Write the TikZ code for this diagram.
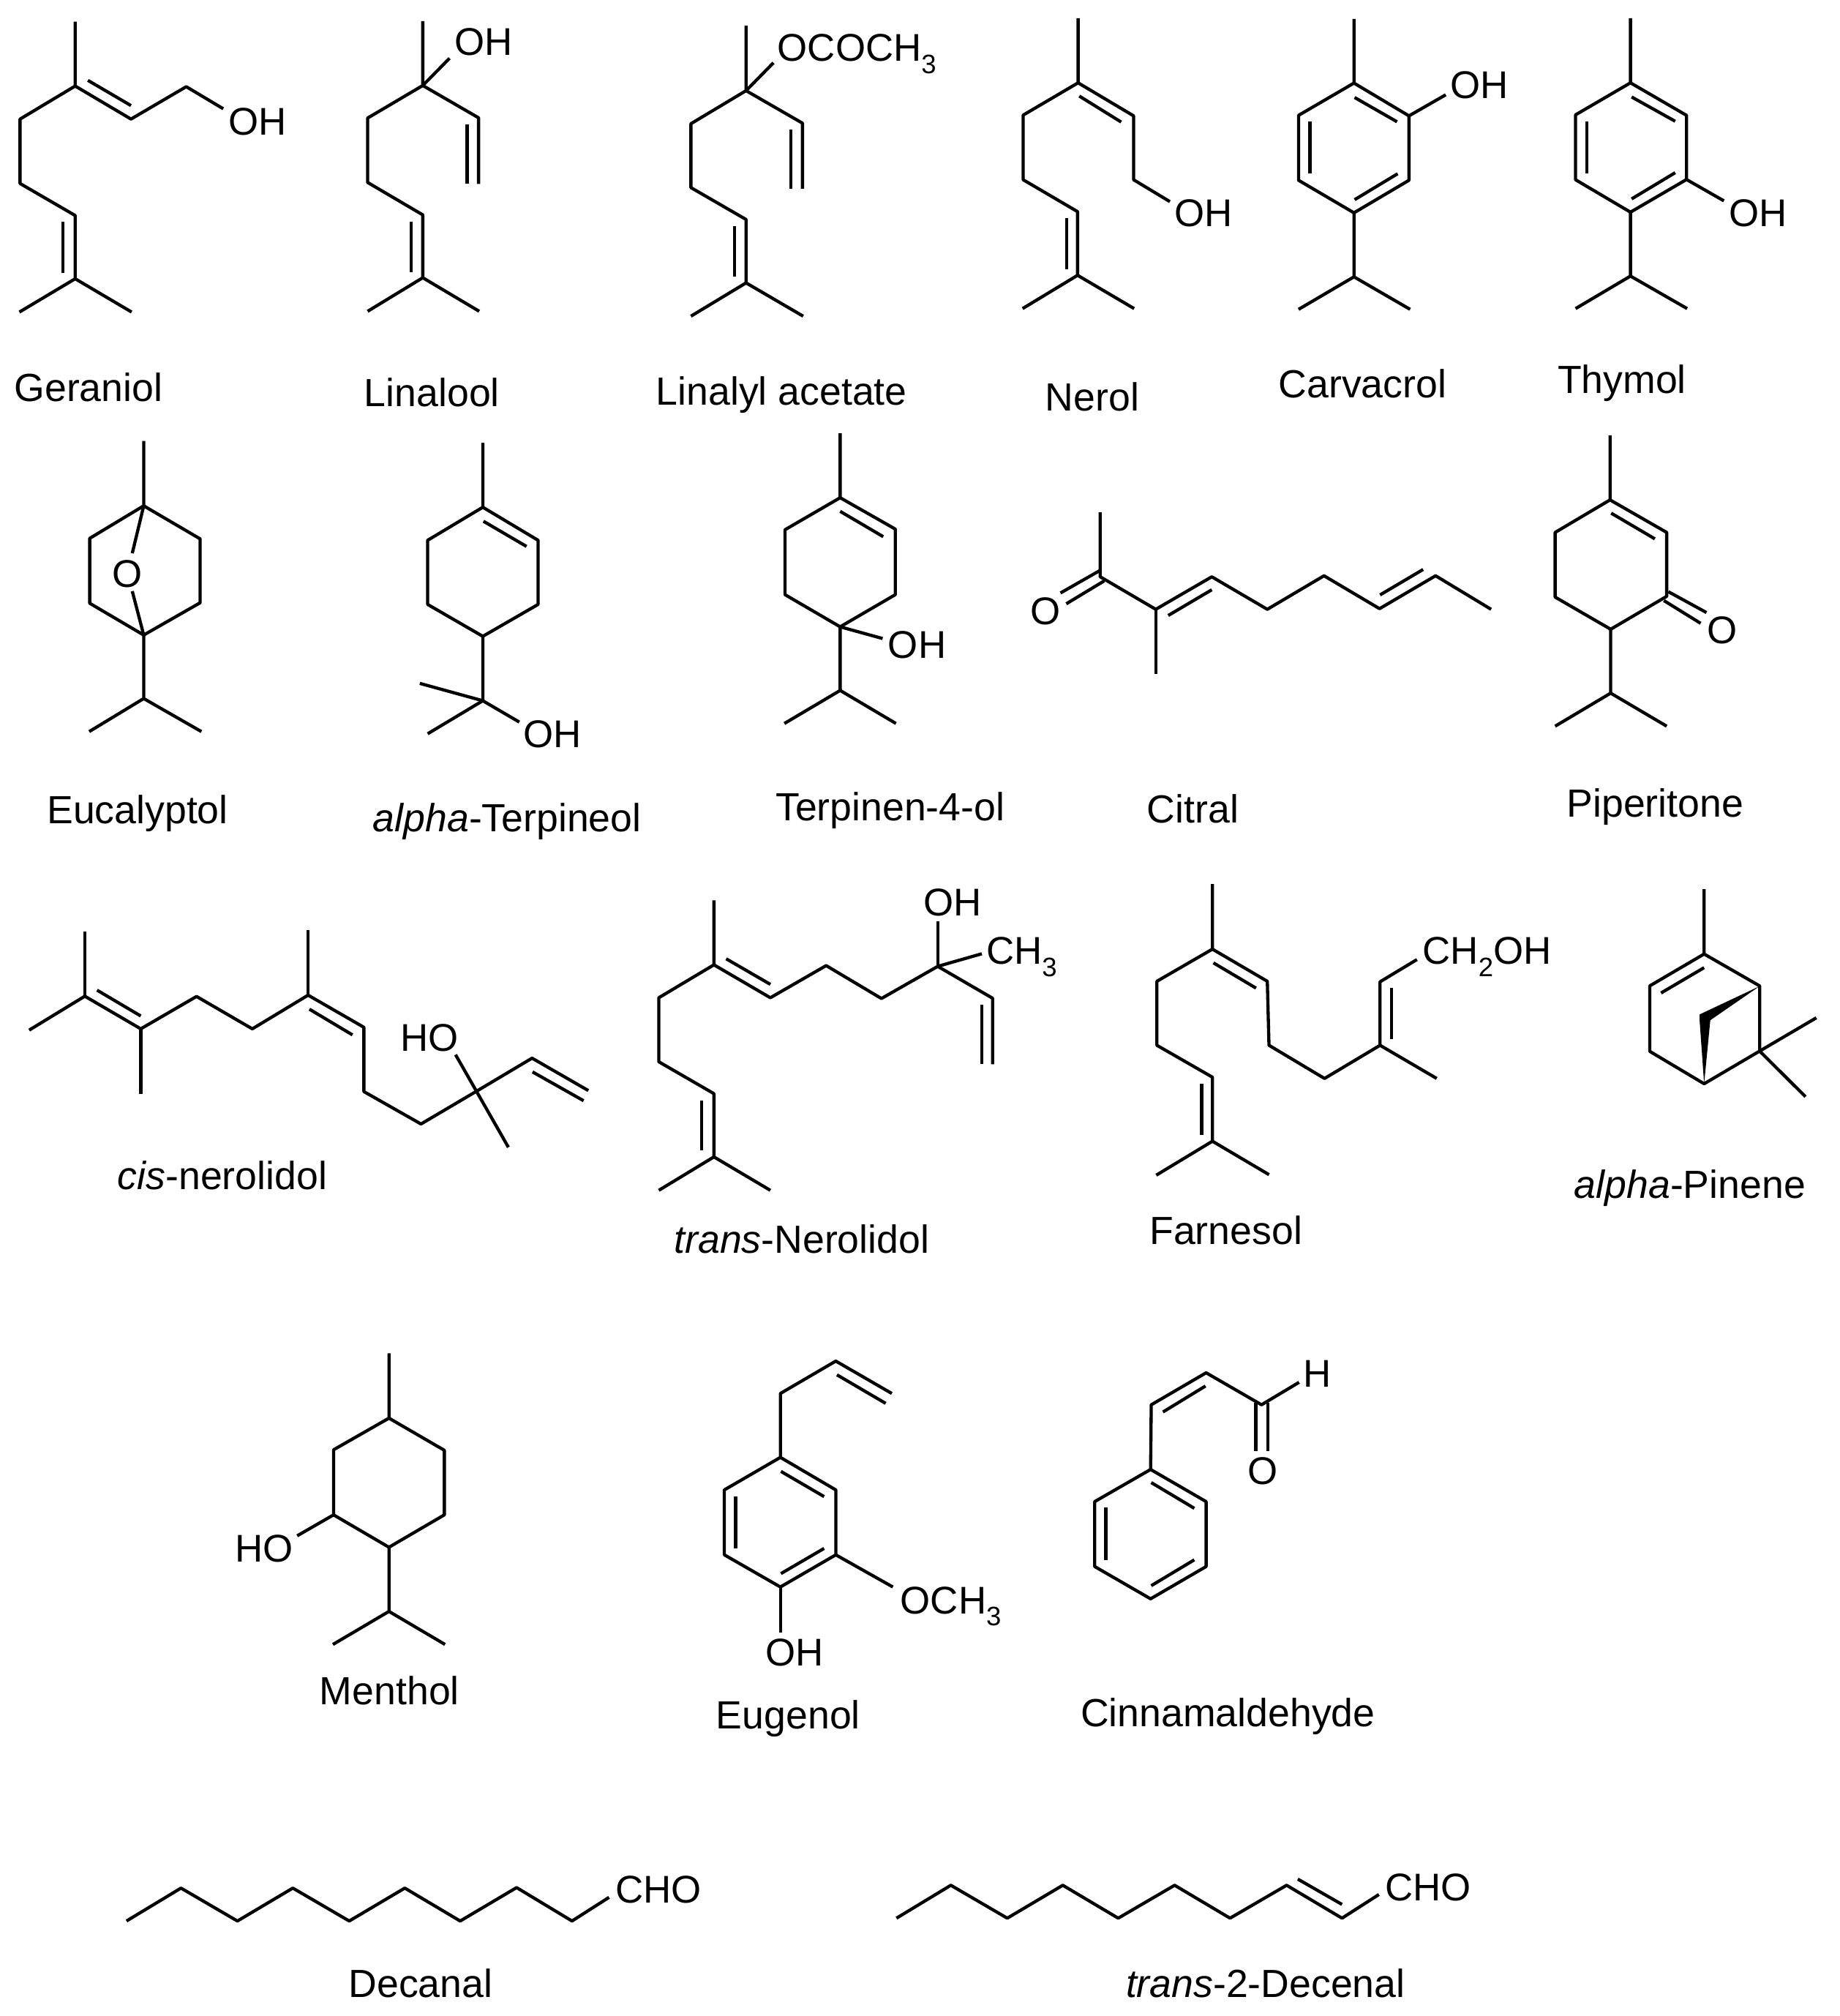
\documentclass[tikz,border=0pt]{standalone}
\usepackage{fontspec}
\setmainfont{Liberation Sans}
\newcommand{\atomsub}[1]{\raisebox{-0.32em}{\fontsize{5.9}{6}\selectfont #1}}

\begin{document}
\begin{tikzpicture}[x=0.01cm, y=-0.01cm,
  bond/.style={line width=0.7pt, line join=round},
  atom/.style={anchor=base west, inner sep=0pt, font=\fontsize{8.55}{10}\selectfont},
  title/.style={anchor=base, inner sep=0pt, yshift=-0.05mm, font=\fontsize{8.68}{10}\selectfont}]

  \useasboundingbox (0,0) rectangle (1431,1568);

  \draw [bond] (58.5,16.8) -- (58.5,66.9) -- (15.6,92.6) -- (15.6,142.7) -- (58.5,167.6) -- (58.5,216.8) -- (15.1,242.7);
  \draw [bond] (58.5,216.8) -- (102.4,242.7);
  \draw [bond] (58.5,66.9) -- (101.9,92.6) -- (144.9,67.4) -- (173.7,84.6);
  \draw [bond] (68.4,62.5) -- (101.9,82.1);
  \draw [bond] (49.1,172.6) -- (49.1,212.2);
  \node [atom] (geraniolOH) at (177,104.8) {OH};
  \node [title] (geraniol) at (68.8,311.5) {Geraniol};

  \draw [bond] (328.9,16.4) -- (328.9,66.5) -- (286,91.8) -- (286,141.9) -- (328.9,167.1) -- (328.9,216) -- (286,242.1);
  \draw [bond] (328.9,216) -- (372.8,242.1);
  \draw [bond] (328.9,66.5) -- (349.7,45.3);
  \draw [bond] (328.9,66.5) -- (372.3,91.6) -- (372.3,143.1);
  \draw [bond] (363.4,96.8) -- (363.4,143.1);
  \draw [bond] (320,172.2) -- (320,211.8);
  \node [atom] (linaloolOH) at (353,43.2) {OH};
  \node [title] (linalool) at (336,315.7) {Linalool};

  \draw [bond] (580.4,20) -- (580.4,70.5) -- (537.5,96.2) -- (537.5,145.9) -- (580.4,170.7) -- (580.4,220) -- (537.5,245.9);
  \draw [bond] (580.4,220) -- (624.8,245.9);
  \draw [bond] (580.4,70.5) -- (601.7,48.8);
  \draw [bond] (580.4,70.5) -- (624.3,95.8) -- (624.3,146.7);
  \draw [bond] (615.4,101) -- (615.4,146.7);
  \draw [bond] (571.5,175.8) -- (571.5,215.1);
  \node [atom] (linalylO) at (604.2,47.4) {OCOCH\atomsub{3}};
  \node [title] (linalyl) at (608,314.7) {Linalyl acetate};

  \draw [bond] (838.7,14.1) -- (838.7,64.4) -- (796,89.5) -- (796,139.8) -- (838.3,164.6) -- (838.3,214.1) -- (795.5,240);
  \draw [bond] (838.3,214.1) -- (882.3,240);
  \draw [bond] (838.7,64.4) -- (881.9,90.1) -- (881.9,139.8) -- (910.1,156.8);
  \draw [bond] (839.6,74.7) -- (872.2,94.9);
  \draw [bond] (829.9,169.5) -- (829.9,209.4);
  \node [atom] (nerolOH) at (913.2,176.4) {OH};
  \node [title] (nerol) at (849.7,318.9) {Nerol};

  \draw [bond] (1053.3,14.7) -- (1053.3,64.6) -- (1096.1,90.1) -- (1096.1,140.2) -- (1053.3,165.5) -- (1010.2,140.2) -- (1010.2,89.7) -- (1053.3,64.6);
  \draw [bond] (1053.3,165.5) -- (1053.3,215.3) -- (1010.2,240.6);
  \draw [bond] (1053.3,215.3) -- (1097,240.6);
  \draw [bond] (1096.1,90.1) -- (1124.7,73.7);
  \draw [bond] (1053.8,75.8) -- (1086.8,94.7);
  \draw [bond] (1019,94.7) -- (1019,135.1);
  \draw [bond] (1053.8,155.3) -- (1087.3,135.1);
  \node [atom] (carvacrolOH) at (1127.8,76.4) {OH};
  \node [title] (carvacrol) at (1060,309) {Carvacrol};

  \draw [bond] (1268.4,14.1) -- (1268.4,64.4) -- (1312,89.7) -- (1312,139.6) -- (1268.4,165) -- (1225.7,139.8) -- (1225.7,89.3) -- (1268.4,64.4);
  \draw [bond] (1268.4,165) -- (1268.4,214.7) -- (1225.7,240);
  \draw [bond] (1268.4,214.7) -- (1312.5,240);
  \draw [bond] (1312,139.6) -- (1341.1,156.2);
  \draw [bond] (1269.3,75.4) -- (1303.2,94.3);
  \draw [bond] (1234.5,94.7) -- (1234.5,134.7);
  \draw [bond] (1269.3,154.7) -- (1303.2,134.3);
  \node [atom] (thymolOH) at (1344.2,176.4) {OH};
  \node [title] (thymol) at (1261.8,305.6) {Thymol};

  \draw [bond] (111.8,343) -- (111.8,393.4) -- (69.8,418.7) -- (69.8,469.2) -- (111.8,493.9) -- (155.7,468.8) -- (155.7,419.1) -- (111.8,393.4);
  \draw [bond] (111.8,493.9) -- (111.8,543.3) -- (69.4,569);
  \draw [bond] (111.8,543.3) -- (156.7,569);
  \draw [bond] (111.8,393.4) -- (102.9,430.3);
  \draw [bond] (102.9,459.8) -- (111.8,493.9);
  \node [atom] (eucalyptolO) at (86.8,457) {O};
  \node [title] (eucalyptol) at (107,640.2) {Eucalyptol};

  \draw [bond] (375.6,344.4) -- (375.6,394.5) -- (418.6,420.2) -- (418.6,470.1) -- (375.6,494.9) -- (332.7,470.1) -- (332.7,420.2) -- (375.6,394.5);
  \draw [bond] (375.6,494.9) -- (375.6,545) -- (326.6,531.5);
  \draw [bond] (375.6,545) -- (332.7,570.7);
  \draw [bond] (375.6,545) -- (404,561.6);
  \draw [bond] (376.1,405.4) -- (409.6,425);
  \node [atom] (terpineolOH) at (406.7,581.2) {OH};
  \node [title] (terpineol) at (394.5,646.5) {\textit{alpha}-Terpineol};

  \draw [bond] (653.6,337) -- (653.6,387.1) -- (696.5,411.5) -- (696.5,462.5) -- (653.6,487.5) -- (610.7,462.5) -- (610.7,412) -- (653.6,387.1);
  \draw [bond] (653.6,487.5) -- (653.6,537) -- (610.2,562.7);
  \draw [bond] (653.6,537) -- (697,562.7);
  \draw [bond] (653.6,487.5) -- (686.6,496.6);
  \draw [bond] (653.6,397.7) -- (687.1,417.4);
  \node [atom] (terpinenOH) at (690.2,511.7) {OH};
  \node [title] (terpinen) at (692.5,637.6) {Terpinen-4-ol};

  \draw [bond] (855.9,398.5) -- (855.9,448.6) -- (899.1,473.9) -- (942.7,448.6) -- (985.9,473.9) -- (1030,447.8) -- (1073.2,473.4) -- (1116.8,447.8) -- (1160,473.9);
  \draw [bond] (899.1,473.9) -- (899.1,524.4);
  \draw [bond] (855.5,443.8) -- (825,461.2);
  \draw [bond] (859,451.8) -- (829.5,469.6);
  \draw [bond] (908.8,478.7) -- (942.7,458.7);
  \draw [bond] (1073.6,462.7) -- (1107.1,442.9);
  \node [atom] (citralO) at (801,486) {O};
  \node [title] (citral) at (928,639.5) {Citral};

  \draw [bond] (1252.5,338.5) -- (1252.5,388.8) -- (1296.6,414.1) -- (1296.6,463.8) -- (1253,489.4) -- (1209.8,464.4) -- (1209.8,414.1) -- (1252.5,388.8);
  \draw [bond] (1253,489.4) -- (1253,539.1) -- (1209.8,564.8);
  \draw [bond] (1253,539.1) -- (1296.6,564.8);
  \draw [bond] (1297.9,460.2) -- (1327.5,476.4);
  \draw [bond] (1294.4,467.1) -- (1323,484.8);
  \draw [bond] (1253.4,399.1) -- (1287.4,419.1);
  \node [atom] (piperitoneO) at (1327.5,500.8) {O};
  \node [title] (piperitone) at (1287.6,634.9) {Piperitone};

  \draw [bond] (22.7,801.2) -- (66,774.8) -- (109.5,800.2) -- (152.9,775) -- (196.3,800.2) -- (239.7,774) -- (283.1,799) -- (283.1,849) -- (327.5,874.2) -- (370.9,848.6) -- (413.9,823) -- (457.7,848.2);
  \draw [bond] (66,724.6) -- (66,774.8);
  \draw [bond] (109.5,800.2) -- (109.5,851);
  \draw [bond] (239.7,723.3) -- (239.7,774);
  \draw [bond] (354.4,820.3) -- (395.5,892.3);
  \draw [bond] (75.5,770.1) -- (109.5,790.2);
  \draw [bond] (240.7,784.9) -- (274.2,804.9);
  \draw [bond] (414.3,833.7) -- (454,856.1);
  \node [atom] (cisHO) at (311,817.3) {HO};
  \node [title] (cisnerolidol) at (173,924.4) {\textit{cis}-nerolidol};

  \draw [bond] (555.4,700.2) -- (555.4,750.4) -- (512.5,776) -- (512.5,825.8) -- (555.4,850.6) -- (555.4,899.8) -- (512.5,925.8);
  \draw [bond] (555.4,899.8) -- (599.3,925.8);
  \draw [bond] (555.4,750.4) -- (599.3,776) -- (642.7,751) -- (685.7,776.6) -- (729.5,751.6) -- (772.2,776.4) -- (772.2,827.8);
  \draw [bond] (729.5,751.6) -- (729.5,716.4);
  \draw [bond] (729.5,751.6) -- (763.8,741.8);
  \draw [bond] (763.8,781.5) -- (763.8,827.8);
  \draw [bond] (564.9,745.7) -- (599.3,765.6);
  \draw [bond] (546,855.7) -- (546,894.9);
  \node [atom] (transOH) at (717.6,712.4) {OH};
  \node [atom] (transCH) at (766.6,750) {CH\atomsub{3}};
  \node [title] (transnerolidol) at (623.7,974.2) {\textit{trans}-Nerolidol};

  \draw [bond] (943.2,687.6) -- (943.2,738.2) -- (900,763.2) -- (900,813) -- (943.2,837.8) -- (943.2,887.6) -- (899.5,914);
  \draw [bond] (943.2,887.6) -- (987.2,913.6);
  \draw [bond] (943.2,738.2) -- (985.9,763.2) -- (987.2,813) -- (1030.4,838.8) -- (1073.6,813) -- (1073.6,763.6) -- (1102.3,746.3);
  \draw [bond] (1073.6,813) -- (1117.7,838.8);
  \draw [bond] (944,748.9) -- (977.1,768.5);
  \draw [bond] (934.8,843.1) -- (934.8,882.7);
  \draw [bond] (1082.4,768.3) -- (1082.4,808.3);
  \node [atom] (farnesolOH) at (1106,750) {CH\atomsub{2}OH};
  \node [title] (farnesol) at (953.7,967.5) {Farnesol};

  \draw [bond] (1325.7,691.6) -- (1325.7,742) -- (1283.4,766.8) -- (1283.4,817.7) -- (1325.7,842.9) -- (1368.9,817.5) -- (1368.9,766.8) -- (1325.7,742);
  \draw [bond] (1368.9,817.5) -- (1413,791.6);
  \draw [bond] (1368.9,817.5) -- (1404.6,853);
  \draw [bond] (1292.2,772.3) -- (1325.7,752.6);
  \fill (1368.9,767) -- (1322.2,789) -- (1322.2,793.7) -- (1325.7,842.9) -- (1330.5,793.5) -- cycle;
  \node [title] (pinene) at (1314.7,931.5) {\textit{alpha}-Pinene};

  \draw [bond] (302.6,1052.5) -- (302.6,1103) -- (259.5,1127.6) -- (259.5,1178.2) -- (302.6,1203.4) -- (345.7,1178.2) -- (345.7,1128) -- (302.6,1103);
  \draw [bond] (302.6,1203.4) -- (302.6,1253.3) -- (259,1279);
  \draw [bond] (302.6,1253.3) -- (346.2,1279);
  \draw [bond] (259.5,1178.2) -- (231.2,1194.5);
  \node [atom] (mentholHO) at (182.1,1215) {HO};
  \node [title] (menthol) at (303,1325.2) {Menthol};

  \draw [bond] (693.8,1083.8) -- (650.2,1058.6) -- (607.1,1083.8) -- (607.1,1133.5) -- (650.2,1158.8) -- (650.2,1209.3) -- (607.1,1234.3) -- (563.5,1209.3) -- (563.5,1158.8) -- (607.1,1133.5);
  \draw [bond] (651.1,1069.3) -- (689,1091.5);
  \draw [bond] (607.5,1144.4) -- (641.1,1164);
  \draw [bond] (572.2,1164) -- (572.2,1204.3);
  \draw [bond] (607.5,1223.9) -- (641.1,1204.3);
  \draw [bond] (650.2,1209.3) -- (694.6,1234.3);
  \draw [bond] (607.1,1234.3) -- (607.1,1269.6);
  \node [atom] (eugenolO) at (699.8,1255) {OCH\atomsub{3}};
  \node [atom] (eugenolOH) at (595,1295.8) {OH};
  \node [title] (eugenol) at (613.2,1344.3) {Eugenol};

  \draw [bond] (895.1,1142.9) -- (938.3,1167.9) -- (938.3,1218.4) -- (895.1,1243.5) -- (851.6,1218.4) -- (851.6,1167.9) -- (895.1,1142.9);
  \draw [bond] (895.1,1142.9) -- (895.6,1092.6) -- (938.3,1067.7) -- (981.4,1092.6) -- (1010.6,1075.1);
  \draw [bond] (895.6,1153.1) -- (929.1,1173.1);
  \draw [bond] (860.3,1172.7) -- (860.3,1213.2);
  \draw [bond] (895.6,1233.3) -- (929.1,1213.2);
  \draw [bond] (904.7,1098.2) -- (937.8,1078);
  \draw [bond] (977,1091) -- (977,1128.5);
  \draw [bond] (986.2,1091) -- (986.2,1128.5);
  \node [atom] (cinnamO) at (970,1154.6) {O};
  \node [atom] (cinnamH) at (1013.5,1079) {H};
  \node [title] (cinnamaldehyde) at (955.3,1342.6) {Cinnamaldehyde};

  \draw [bond] (98.4,1494.1) -- (140.8,1468.5) -- (184.7,1494.1) -- (227.8,1468.5) -- (271.7,1494.1) -- (314.9,1468.5) -- (358,1494.1) -- (401.9,1468.1) -- (445,1494.1) -- (473.8,1475.7);
  \node [atom] (decanalCHO) at (478.2,1480.3) {CHO};
  \node [title] (decanal) at (327.2,1553) {Decanal};

  \draw [bond] (697.4,1491.9) -- (739.7,1466.3) -- (783.6,1491.9) -- (826.8,1466.3) -- (869.9,1491.9) -- (913.8,1466.3) -- (956.9,1491.9) -- (1000.9,1466.3) -- (1044,1491.9) -- (1072.7,1473.5);
  \draw [bond] (1009.6,1461.5) -- (1044,1481.2);
  \node [atom] (decenalCHO) at (1077,1478.4) {CHO};
  \node [title] (decenal) at (984.5,1553) {\textit{trans}-2-Decenal};
\end{tikzpicture}
\end{document}
